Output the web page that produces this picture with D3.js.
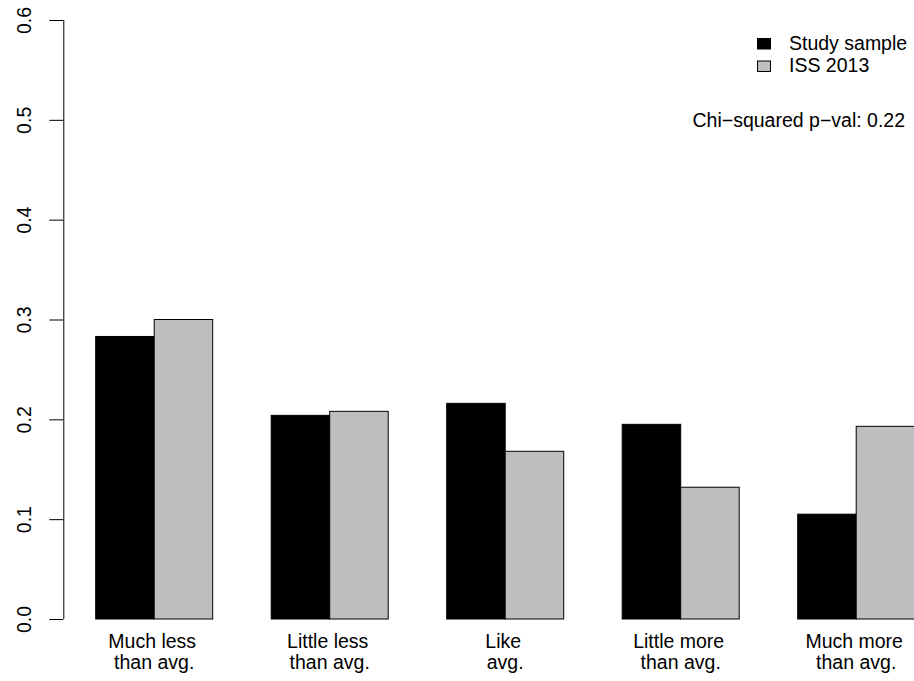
<!DOCTYPE html>
<html>
<head>
<meta charset="utf-8">
<script src="https://cdn.jsdelivr.net/npm/d3@7"></script>
<style>
  html, body { margin: 0; padding: 0; background: #fff; }
  svg { display: block; font-family: "Liberation Sans", Arial, Helvetica, sans-serif; }
</style>
</head>
<body>
<svg id="chart" width="914" height="681"></svg>
<script>
const categories = [["Much less", "than avg."], ["Little less", "than avg."], ["Like", "avg."], ["Little more", "than avg."], ["Much more", "than avg."]];
const studySample = [0.283, 0.204, 0.216, 0.195, 0.105];
const iss2013 = [0.300, 0.208, 0.168, 0.132, 0.193];
const seriesNames = ["Study sample", "ISS 2013"];
const seriesColors = ["#000000", "#BEBEBE"];
const yTicks = [0.0, 0.1, 0.2, 0.3, 0.4, 0.5, 0.6];
const pValueText = "Chi\u2212squared p\u2212val: 0.22";

const svg = d3.select("#chart");
const fontSize = 19.5;

// bar units: group i occupies [1+3i, 3+3i]
const x = d3.scaleLinear().domain([1, 15]).range([95.7, 914.7]);
const y = d3.scaleLinear().domain([0, 0.6]).range([619, 20]);

const series = [studySample, iss2013];
const g = svg.append("g");
series.forEach((vals, s) => {
  g.selectAll(null)
    .data(vals)
    .enter()
    .append("rect")
    .attr("x", (d, i) => x(1 + 3 * i + s))
    .attr("width", (d, i) => x(2 + 3 * i + s) - x(1 + 3 * i + s))
    .attr("y", d => y(d))
    .attr("height", d => y(0) - y(d))
    .attr("fill", seriesColors[s])
    .attr("stroke", "#000")
    .attr("stroke-width", 1);
});

// Y axis
const axisG = svg.append("g")
  .attr("transform", "translate(63.3,0)")
  .call(d3.axisLeft(y).tickValues(yTicks).tickFormat(d3.format(".1f")).tickSize(14).tickSizeOuter(0));
axisG.select(".domain").attr("stroke", "#000").attr("stroke-width", 1)
  .attr("d", `M0.5,${y(0.6)}V${y(0)}`);
axisG.selectAll(".tick line").attr("stroke", "#000").attr("stroke-width", 1);
axisG.selectAll(".tick text")
  .attr("transform", "rotate(-90)")
  .attr("x", 0)
  .attr("y", -32.6)
  .attr("dy", null)
  .attr("text-anchor", "middle")
  .attr("fill", "#000")
  .style("font-family", "'Liberation Sans', Arial, sans-serif")
  .style("font-size", fontSize + "px");

// Category labels
const lab = svg.append("g")
  .attr("font-size", fontSize)
  .attr("text-anchor", "middle")
  .attr("fill", "#000");
categories.forEach((lines, i) => {
  const t = lab.append("text").attr("x", x(2 + 3 * i) - 2);
  lines.forEach((ln, j) => {
    t.append("tspan").attr("x", x(2 + 3 * i) - 2 + j * 2).attr("y", 647.5 + j * 21).text(ln);
  });
});

// Legend
const leg = svg.append("g").attr("font-size", fontSize);
seriesNames.forEach((name, s) => {
  leg.append("rect")
    .attr("x", 757.5).attr("y", 38.5 + s * 22.5)
    .attr("width", 13).attr("height", 10.5)
    .attr("fill", seriesColors[s]).attr("stroke", "#000").attr("stroke-width", 1);
  leg.append("text").attr("x", 789).attr("y", 49.5 + s * 22.5).text(name);
});

svg.append("text")
  .attr("x", 905).attr("y", 126.5)
  .attr("text-anchor", "end")
  .attr("font-size", fontSize)
  .text(pValueText);
</script>
</body>
</html>
